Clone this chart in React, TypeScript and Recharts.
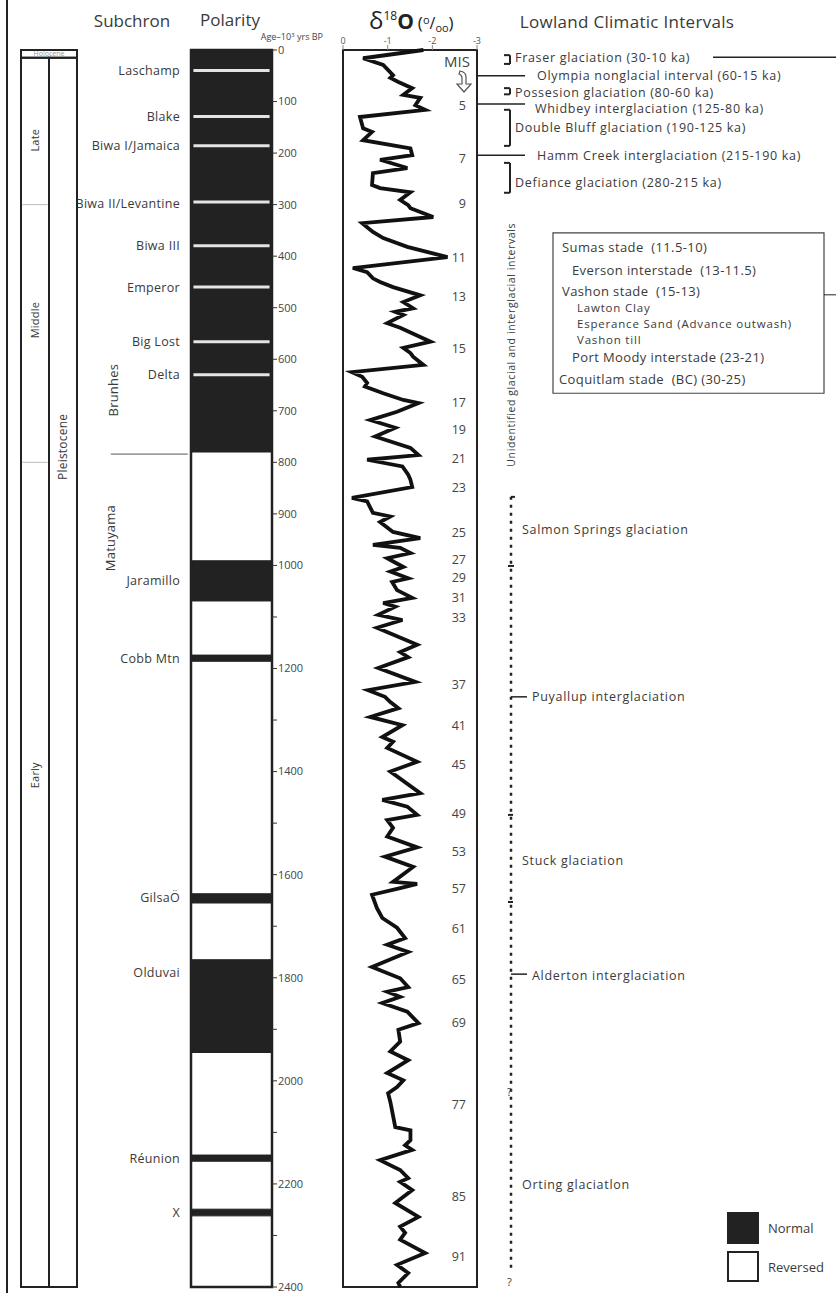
import React from "react";
import {
  ComposedChart,
  XAxis,
  YAxis,
  Scatter,
  ReferenceArea,
  ReferenceLine,
  ReferenceDot,
} from "recharts";

const W = 836;
const H = 1293;
const TOP = 50;
const BOTTOM = 6;
const MAX_AGE = 2400;
const INK = "#222";
const TXT = "#3a3a3a";

// δ18O record, age in ka and value in per mil
const isoAges = [
  0, 16, 29, 49, 54, 62, 74, 87, 93, 107, 116, 130, 152, 159, 175, 191, 204, 213, 229, 239,
  262, 268, 276, 291, 301, 307, 324, 336, 353, 365, 382, 402, 423, 431, 443, 450, 460, 476,
  489, 501, 508, 514, 530, 539, 566, 578, 588, 595, 611, 625, 634, 646, 653, 666, 679, 685,
  702, 718, 733, 750, 772, 786, 795, 808, 824, 834, 848, 869, 876, 898, 905, 916, 935, 947,
  960, 966, 976, 986, 1003, 1012, 1025, 1032, 1048, 1063, 1073, 1080, 1096, 1106, 1121, 1154,
  1168, 1178, 1199, 1226, 1242, 1255, 1265, 1277, 1294, 1310, 1333, 1342, 1354, 1381, 1400,
  1442, 1455, 1468, 1484, 1494, 1509, 1526, 1547, 1565, 1585, 1614, 1618, 1626, 1639, 1665,
  1684, 1703, 1723, 1736, 1750, 1779, 1801, 1818, 1827, 1837, 1849, 1866, 1888, 1901, 1924,
  1943, 1960, 1985, 1999, 2012, 2024, 2041, 2090, 2096, 2115, 2125, 2134, 2154, 2173, 2189,
  2196, 2212, 2237, 2264, 2283, 2295, 2308, 2334, 2357, 2373, 2392, 2400,
];
const isoValues = [
  -1.8, -0.45, -0.9, -1.12, -1.06, -1.24, -1.55, -1.35, -1.73, -1.62, -1.84, -0.38, -0.45,
  -0.65, -0.45, -1.51, -1.55, -0.83, -1.44, -0.67, -0.65, -0.83, -1.51, -1.28, -1.46, -1.51,
  -2.02, -0.43, -0.67, -0.9, -1.44, -2.34, -0.22, -0.54, -0.67, -0.83, -1.12, -1.73, -1.35,
  -1.57, -1.17, -1.35, -0.99, -1.28, -1.96, -1.35, -1.51, -1.57, -1.8, -0.2, -0.43, -0.54,
  -0.49, -0.9, -1.35, -1.69, -1.21, -0.61, -1.17, -0.72, -1.51, -1.69, -0.54, -1.33, -1.46,
  -1.51, -1.55, -0.2, -0.54, -0.67, -1.06, -0.83, -1.12, -1.73, -0.67, -1.28, -1.51, -0.99,
  -1.35, -1.06, -1.46, -1.1, -1.21, -1.55, -0.9, -1.17, -0.79, -1.33, -0.76, -1.66, -1.28,
  -1.46, -0.79, -1.62, -0.56, -0.94, -1.06, -1.24, -0.61, -1.33, -0.88, -1.12, -0.99, -1.66,
  -1.06, -1.73, -0.88, -1.44, -1.66, -0.99, -1.12, -0.99, -1.66, -0.94, -1.57, -1.12, -1.66,
  -1.28, -0.65, -0.76, -0.88, -1.21, -1.39, -0.99, -1.46, -0.65, -1.28, -1.46, -0.99, -1.28,
  -0.88, -1.44, -1.69, -1.24, -1.28, -1.06, -1.46, -0.99, -1.35, -1.21, -1.01, -1.06, -1.17,
  -1.51, -1.51, -1.39, -1.55, -0.83, -1.28, -1.46, -1.28, -1.55, -1.17, -1.69, -1.28, -1.39,
  -1.28, -1.84, -1.21, -1.46, -1.24, -1.28,
];

const isoTicks = [0, -1, -2, -3];

// marine isotope stages
const misStages = [5, 7, 9, 11, 13, 15, 17, 19, 21, 23, 25, 27, 29, 31, 33, 37, 41, 45, 49, 53, 57, 61, 65, 69, 77, 85, 91];
const misAges = [
  107, 210, 297, 402, 479, 580, 685, 737, 792, 848, 937, 988, 1024, 1063, 1102, 1232, 1310,
  1387, 1482, 1556, 1626, 1705, 1804, 1886, 2047, 2224, 2340,
];

const ageTicks = [
  0, 100, 200, 300, 400, 500, 600, 700, 800, 900, 1000, 1100, 1200, 1300, 1400, 1500, 1600,
  1700, 1800, 1900, 2000, 2100, 2200, 2300, 2400,
];

// epoch boundaries (ka)
const epochAges = [0, 15, 300, 800, 2400];

// normal polarity chrons (ka)
const normalTops = [0, 991, 1174, 1637, 1765, 2144, 2249];
const normalBases = [780, 1069, 1186, 1655, 1945, 2156, 2262];

// excursions inside Brunhes
const excursionAges = [40, 129, 186, 295, 380, 460, 566, 630];

const subchronNames = [
  "Laschamp", "Blake", "Biwa I/Jamaica", "Biwa II/Levantine", "Biwa III", "Emperor",
  "Big Lost", "Delta", "Jaramillo", "Cobb Mtn", "GilsaÖ", "Olduvai", "Réunion", "X",
];
const subchronAges = [40, 130, 186, 297, 380, 460, 566, 630, 1030, 1180, 1645, 1790, 2150, 2255];

// lowland climatic intervals, drawn ages (ka)
const intervalAges = [15.5, 49, 82, 114.5, 151, 204, 258, 931, 1255, 1572, 1795, 2202];

const isoData = isoAges.map((age, i) => ({ age, d: isoValues[i] }));
const epochData = epochAges.map((age) => ({ age, x: 1 }));
const chronData = normalTops.map((age) => ({ age, x: 0.5 }));
const intervalData = intervalAges.map((age) => ({ age, x: 34 }));
const fmtAge = (v: number) => (v <= 1000 || v % 200 === 0 ? String(v) : "");
const noShape = () => <g />;

const chartBox = (left: number): React.CSSProperties => ({ position: "absolute", left, top: 0 });

function txt(key: string, x: number, y: number, value: string, size = 12.5, extra: any = {}) {
  return (
    <ReferenceDot
      key={key}
      x={x}
      y={y}
      r={0}
      fill="none"
      stroke="none"
      ifOverflow="visible"
      label={{ value, position: "right", offset: 0, fontSize: size, fill: TXT, letterSpacing: 0.7, ...extra }}
    />
  );
}

function seg(key: string, x1: number, y1: number, x2: number, y2: number, props: any = {}) {
  return (
    <ReferenceLine
      key={key}
      segment={[{ x: x1, y: y1 }, { x: x2, y: y2 }]}
      stroke={INK}
      strokeWidth={1.5}
      ifOverflow="visible"
      {...props}
    />
  );
}

function EpochColumn() {
  const lab = { position: "center", angle: -90, letterSpacing: 0.2 };
  return (
    <ComposedChart width={90} height={H} margin={{ top: TOP, bottom: BOTTOM, left: 21, right: 13 }}>
      <XAxis type="number" dataKey="x" domain={[0, 2]} hide />
      <YAxis type="number" dataKey="age" domain={[0, MAX_AGE]} reversed hide />
      <Scatter data={epochData} shape={noShape} isAnimationActive={false} />
      <ReferenceArea x1={0} x2={2} y1={0} y2={15} fill="#fff" fillOpacity={1} stroke={INK} strokeWidth={2} />
      <ReferenceArea x1={0} x2={1} y1={15} y2={MAX_AGE} fill="none" stroke={INK} strokeWidth={2} />
      <ReferenceArea x1={1} x2={2} y1={15} y2={MAX_AGE} fill="none" stroke={INK} strokeWidth={2} />
      {seg("lm", 0.05, 300, 0.95, 300, { stroke: "#bbb", strokeWidth: 1 })}
      {seg("me", 0.05, 800, 0.95, 800, { stroke: "#bbb", strokeWidth: 1 })}
      {txt("hol", 1, 7.5, "Holocene", 7, { position: "center", fill: "#999", letterSpacing: 0 })}
      {txt("late", 0.5, 175, "Late", 11, lab)}
      {txt("mid", 0.5, 524, "Middle", 11, lab)}
      {txt("early", 0.5, 1407, "Early", 11, lab)}
      {txt("pleis", 1.5, 770, "Pleistocene", 12, lab)}
    </ComposedChart>
  );
}

function PolarityColumn() {
  return (
    <ComposedChart width={340} height={H} margin={{ top: TOP, bottom: BOTTOM, left: 0, right: 0 }}>
      <XAxis type="number" dataKey="x" domain={[0, 1]} hide />
      <YAxis
        yAxisId="names"
        orientation="left"
        type="number"
        dataKey="age"
        domain={[0, MAX_AGE]}
        reversed
        width={191}
        ticks={subchronAges}
        interval={0}
        tickFormatter={(v: number) => subchronNames[subchronAges.indexOf(v)]}
        tickLine={false}
        axisLine={false}
        tickMargin={5}
        tick={{ fontSize: 12.5, fill: TXT, letterSpacing: 0.3 }}
      />
      <YAxis
        yAxisId="age"
        orientation="right"
        type="number"
        dataKey="age"
        domain={[0, MAX_AGE]}
        reversed
        width={68}
        ticks={ageTicks}
        interval={0}
        tickFormatter={fmtAge}
        tickSize={5}
        tickMargin={1}
        axisLine={false}
        tickLine={{ stroke: "#333" }}
        tick={{ fontSize: 11, fill: "#444" }}
      />
      <Scatter yAxisId="age" data={chronData} shape={noShape} isAnimationActive={false} />
      <Scatter yAxisId="names" data={chronData} shape={noShape} isAnimationActive={false} />
      <ReferenceArea yAxisId="age" x1={0} x2={1} y1={0} y2={MAX_AGE} fill="#fff" fillOpacity={1} stroke="none" />
      {normalTops.map((t, i) => (
        <ReferenceArea
          key={"n" + i}
          yAxisId="age"
          x1={0}
          x2={1}
          y1={t}
          y2={normalBases[i]}
          fill={INK}
          fillOpacity={1}
          stroke={INK}
          strokeWidth={1}
        />
      ))}
      {excursionAges.map((a, i) =>
        seg("e" + i, 0.03, a, 0.97, a, { yAxisId: "age", stroke: "#e4e4e4", strokeWidth: 3 })
      )}
      <ReferenceArea yAxisId="age" x1={0} x2={1} y1={0} y2={MAX_AGE} fill="none" stroke={INK} strokeWidth={2.5} />
      {seg("bm", -0.99, 784, -0.04, 784, { yAxisId: "age", stroke: "#555", strokeWidth: 1 })}
      <ReferenceDot
        yAxisId="age"
        x={-0.96}
        y={660}
        r={0}
        fill="none"
        stroke="none"
        ifOverflow="visible"
        label={{ value: "Brunhes", position: "center", angle: -90, fontSize: 13, fill: TXT, letterSpacing: 0.2 }}
      />
      <ReferenceDot
        yAxisId="age"
        x={-1.0}
        y={947}
        r={0}
        fill="none"
        stroke="none"
        ifOverflow="visible"
        label={{ value: "Matuyama", position: "center", angle: -90, fontSize: 13, fill: TXT, letterSpacing: 0.2 }}
      />
    </ComposedChart>
  );
}

function IsotopeColumn() {
  return (
    <ComposedChart width={160} height={H} margin={{ top: 30, bottom: BOTTOM, left: 13, right: 13 }}>
      <XAxis
        type="number"
        dataKey="d"
        orientation="top"
        domain={[-3, 0]}
        reversed
        ticks={isoTicks}
        interval={0}
        height={20}
        tickSize={5}
        tickMargin={1}
        axisLine={false}
        tickLine={{ stroke: "#888" }}
        tick={{ fontSize: 9, fill: "#555" }}
      />
      <YAxis
        type="number"
        dataKey="age"
        orientation="right"
        mirror
        domain={[0, MAX_AGE]}
        reversed
        ticks={misAges}
        interval={0}
        tickFormatter={(v: number) => String(misStages[misAges.indexOf(v)])}
        tickLine={false}
        axisLine={false}
        tickMargin={5}
        tick={{ fontSize: 12.5, fill: "#444" }}
      />
      <Scatter
        data={isoData}
        line={{ stroke: "#111", strokeWidth: 3.8, strokeLinejoin: "miter" }}
        shape={noShape}
        isAnimationActive={false}
      />
      <ReferenceArea x1={0} x2={-3} y1={0} y2={MAX_AGE} fill="none" stroke={INK} strokeWidth={2} />
    </ComposedChart>
  );
}

function IntervalColumn() {
  const bracket = (k: string, a: number, b: number) => [
    seg(k + "v", 33, a, 33, b, { strokeWidth: 2 }),
    seg(k + "t", 27, a, 33, a, { strokeWidth: 2 }),
    seg(k + "b", 27, b, 33, b, { strokeWidth: 2 }),
  ];
  const sub = { letterSpacing: 0.8 };
  const main = { letterSpacing: 0.4 };
  return (
    <ComposedChart width={359} height={H} margin={{ top: TOP, bottom: BOTTOM, left: 0, right: 0 }}>
      <XAxis type="number" dataKey="x" domain={[0, 359]} hide />
      <YAxis type="number" dataKey="age" domain={[0, MAX_AGE]} reversed hide />
      <Scatter data={intervalData} shape={noShape} isAnimationActive={false} />
      {bracket("fr", 10, 27)}
      {bracket("po", 74, 86)}
      {bracket("db", 116, 186)}
      {bracket("df", 219, 277)}
      {seg("ol", 0, 50, 48, 50)}
      {seg("wh", 0, 105, 48, 105)}
      {seg("hc", 0, 204, 48, 204)}
      {seg("frl", 236, 14, 359, 14)}
      {seg("box", 347, 475, 359, 475, { strokeWidth: 1 })}
      <ReferenceArea x1={76} x2={347} y1={355} y2={666} fill="none" stroke="#444" strokeWidth={1.2} />
      {txt("t1", 38, intervalAges[0], "Fraser glaciation (30-10 ka)")}
      {txt("t2", 60, intervalAges[1], "Olympia nonglacial interval (60-15 ka)")}
      {txt("t3", 38, intervalAges[2], "Possesion glaciation (80-60 ka)")}
      {txt("t4", 58, intervalAges[3], "Whidbey interglaciation (125-80 ka)")}
      {txt("t5", 38, intervalAges[4], "Double Bluff glaciation (190-125 ka)")}
      {txt("t6", 60, intervalAges[5], "Hamm Creek interglaciation (215-190 ka)")}
      {txt("t7", 38, intervalAges[6], "Defiance glaciation (280-215 ka)")}
      {txt("b1", 85, 382, "Sumas stade\u00a0 (11.5-10)", 13, main)}
      {txt("b2", 95, 427, "Everson interstade\u00a0 (13-11.5)", 13, main)}
      {txt("b3", 85, 468, "Vashon stade\u00a0 (15-13)", 13, main)}
      {txt("b4", 100, 501, "Lawton Clay", 11.5, sub)}
      {txt("b5", 100, 532, "Esperance Sand (Advance outwash)", 11.5, sub)}
      {txt("b6", 100, 563, "Vashon till", 11.5, sub)}
      {txt("b7", 95, 597, "Port Moody interstade (23-21)", 13, main)}
      {txt("b8", 82, 640, "Coquitlam stade\u00a0 (BC) (30-25)", 13, main)}
      {txt("un", 34, 572, "Unidentified glacial and interglacial intervals", 10.5, { position: "center", angle: -90, letterSpacing: 0.6 })}
      {seg("dots", 34, 867, 34, 2367, { strokeWidth: 2.5, strokeDasharray: "3 5" })}
      {seg("m1", 34, 867, 38, 867, { strokeWidth: 2 })}
      {seg("m2", 31, 1001, 37, 1001, { strokeWidth: 2 })}
      {seg("m3", 34, 1255, 50, 1255)}
      {seg("m4", 31, 1484, 36, 1484, { strokeWidth: 2 })}
      {seg("m5", 31, 1653, 36, 1653, { strokeWidth: 2 })}
      {seg("m6", 34, 1793, 50, 1793)}
      {txt("q1", 30, 2022, "?", 11, { letterSpacing: 0 })}
      {txt("q2", 30, 2390, "?", 11, { letterSpacing: 0 })}
      {txt("s1", 45, intervalAges[7], "Salmon Springs glaciation")}
      {txt("s2", 55, intervalAges[8], "Puyallup interglaciation")}
      {txt("s3", 45, intervalAges[9], "Stuck glaciation")}
      {txt("s4", 55, intervalAges[10], "Alderton interglaciation")}
      {txt("s5", 45, intervalAges[11], "Orting glaciatlon")}
    </ComposedChart>
  );
}

export default function App() {
  return (
    <div
      style={{
        position: "relative",
        width: W,
        height: H,
        background: "#fff",
        fontFamily: "'Open Sans', sans-serif",
        overflow: "hidden",
      }}
    >
      <style>{"body{margin:0}"}</style>
      <div style={chartBox(0)}>
        <PolarityColumn />
      </div>
      <div style={chartBox(0)}>
        <EpochColumn />
      </div>
      <div style={chartBox(330)}>
        <IsotopeColumn />
      </div>
      <div style={chartBox(477)}>
        <IntervalColumn />
      </div>
      <svg width={W} height={H} style={{ position: "absolute", left: 0, top: 0, pointerEvents: "none" }}>
        <line x1={7} y1={0} x2={7} y2={H} stroke={INK} strokeWidth={2} />
        <text x={132} y={20} textAnchor="middle" dominantBaseline="central" fontSize={17} fill={TXT}>
          Subchron
        </text>
        <text x={230} y={19} textAnchor="middle" dominantBaseline="central" fontSize={17} fill={TXT}>
          Polarity
        </text>
        <text x={323} y={40} textAnchor="end" fontSize={9} fill="#444">
          Age–10<tspan fontSize={6} dy={-3}>3</tspan>
          <tspan dy={3}> yrs BP</tspan>
        </text>
        <text x={369} y={29} fontSize={24} fill={INK}>
          δ<tspan fontSize={12} dy={-9}>18</tspan>
          <tspan fontSize={21} fontWeight={700} dy={9}>O</tspan>
          <tspan fontSize={17} dx={4}>(</tspan>
          <tspan fontSize={11} dy={-5}>o</tspan>
          <tspan fontSize={16} dy={5}>/</tspan>
          <tspan fontSize={11} dy={3}>oo</tspan>
          <tspan fontSize={17} dy={-3}>)</tspan>
        </text>
        <text
          x={627}
          y={21}
          textAnchor="middle"
          dominantBaseline="central"
          fontSize={17}
          letterSpacing={0.3}
          fill={TXT}
        >
          Lowland Climatic Intervals
        </text>
        <text x={457} y={61} textAnchor="middle" dominantBaseline="central" fontSize={15} fill="#444">
          MIS
        </text>
        <path
          d="M460,71 Q466,72 466,77 L466,84 L471,84 L464,92 L457,84 L462,84 L462,78 Q462,75 459,74 Z"
          fill="#fff"
          stroke="#555"
          strokeWidth={1.2}
        />
        <rect x={728} y={1213} width={30} height={30} fill={INK} stroke={INK} strokeWidth={2} />
        <rect x={728} y={1252} width={30} height={29} fill="#fff" stroke={INK} strokeWidth={2} />
        <text x={768} y={1228} dominantBaseline="central" fontSize={13} fill={TXT}>
          Normal
        </text>
        <text x={768} y={1267} dominantBaseline="central" fontSize={13} fill={TXT}>
          Reversed
        </text>
      </svg>
    </div>
  );
}
